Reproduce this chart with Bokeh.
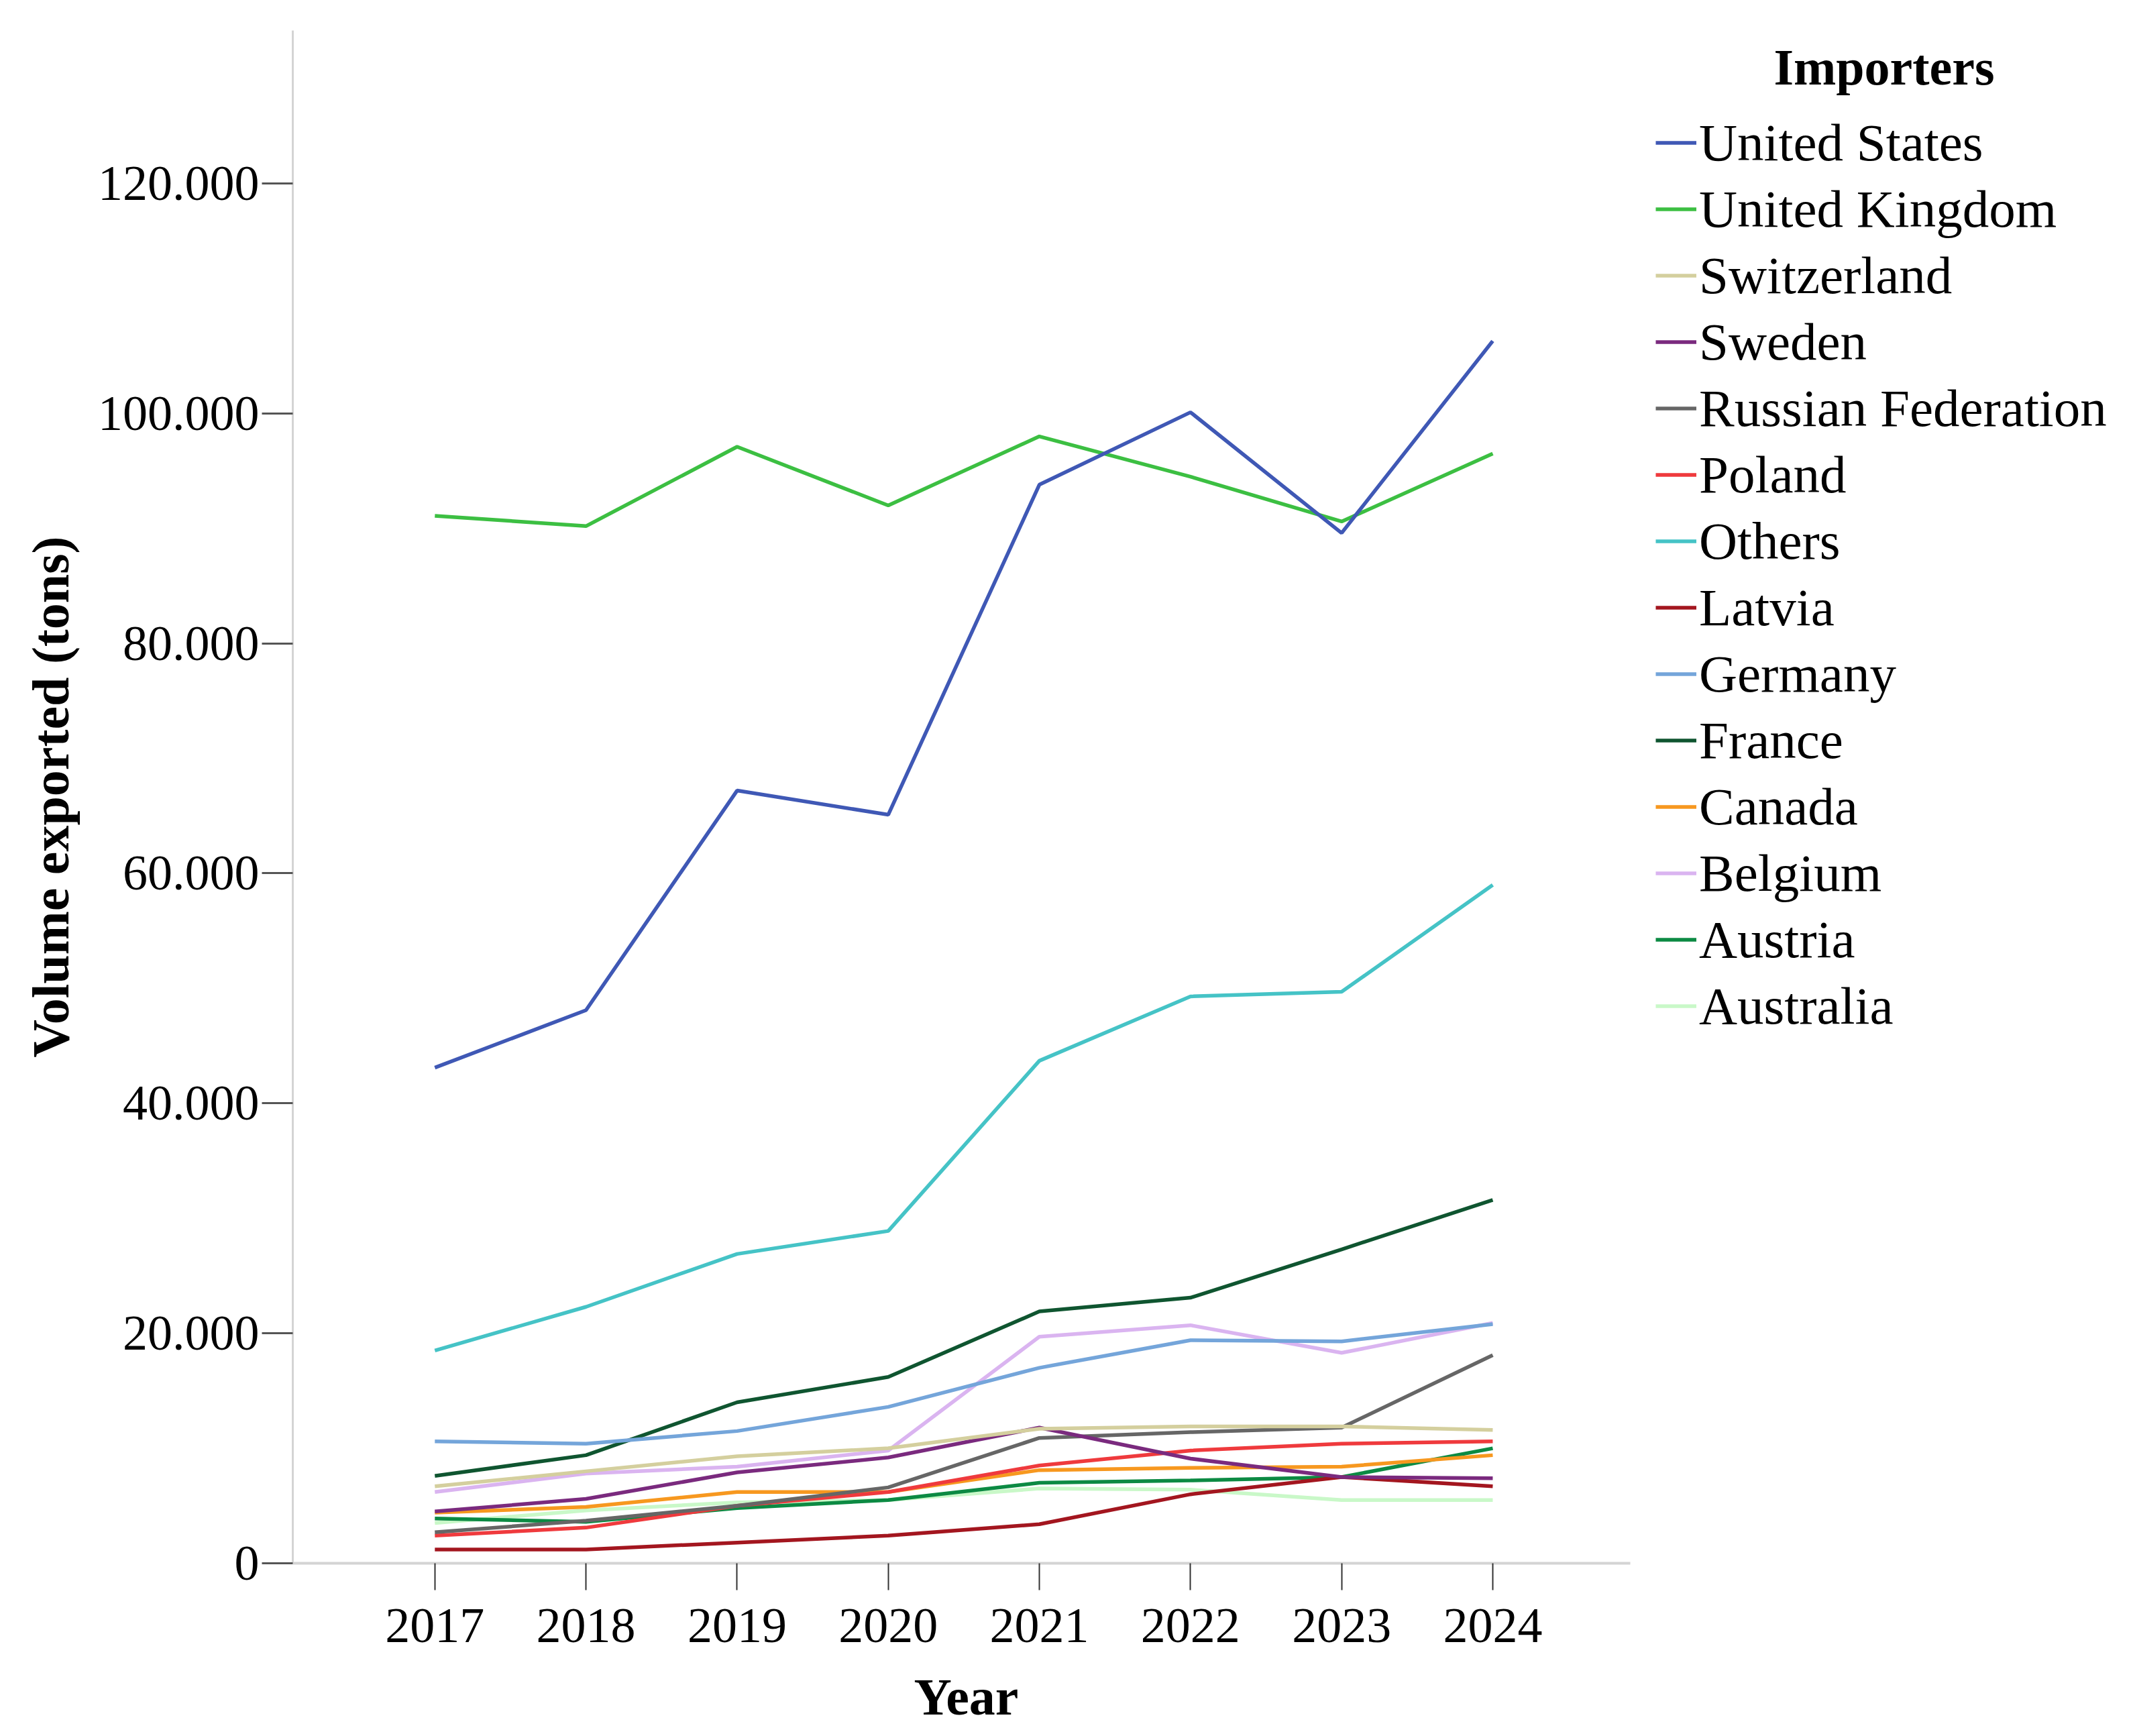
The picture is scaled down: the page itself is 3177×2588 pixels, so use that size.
from bokeh.plotting import figure
from bokeh.models import (FixedTicker, CustomJSTickFormatter, Legend, LegendItem,
                          Range1d, Label, Title)
from bokeh.embed import file_html
from bokeh.resources import INLINE

# data (tons)
years = [2017, 2018, 2019, 2020, 2021, 2022, 2023, 2024]

united_states = [43100, 48100, 67200, 65100, 93800, 100100, 89600, 106300]
united_kingdom = [91100, 90200, 97100, 92000, 98000, 94500, 90600, 96500]
switzerland = [6700, 8000, 9300, 10000, 11700, 11900, 11900, 11600]
sweden = [4500, 5600, 7900, 9200, 11800, 9100, 7500, 7400]
russian_federation = [2700, 3700, 5000, 6600, 10900, 11400, 11800, 18100]
poland = [2400, 3100, 5000, 6200, 8500, 9800, 10400, 10600]
others = [18500, 22300, 26900, 28900, 43700, 49300, 49700, 59000]
latvia = [1200, 1200, 1800, 2400, 3400, 6000, 7500, 6700]
germany = [10600, 10400, 11500, 13600, 17000, 19400, 19300, 20800]
france = [7600, 9400, 14000, 16200, 21900, 23100, 27300, 31600]
canada = [4400, 4900, 6200, 6200, 8100, 8300, 8400, 9400]
belgium = [6200, 7800, 8400, 9800, 19700, 20700, 18300, 20900]
austria = [3900, 3600, 4800, 5500, 7000, 7200, 7500, 10000]
australia = [3500, 4600, 5300, 5500, 6500, 6400, 5500, 5500]

series = [
    ("United States", united_states, "#3f58b5"),
    ("United Kingdom", united_kingdom, "#3cbf42"),
    ("Switzerland", switzerland, "#d4cf9e"),
    ("Sweden", sweden, "#7a2a7e"),
    ("Russian Federation", russian_federation, "#666666"),
    ("Poland", poland, "#ef3a3d"),
    ("Others", others, "#45c3c6"),
    ("Latvia", latvia, "#a3161f"),
    ("Germany", germany, "#74a5da"),
    ("France", france, "#0f5530"),
    ("Canada", canada, "#f7981f"),
    ("Belgium", belgium, "#dab4f0"),
    ("Austria", austria, "#0c8a43"),
    ("Australia", australia, "#c9f8c8"),
]

y_ticks = [0, 20000, 40000, 60000, 80000, 100000, 120000]

FONT = "Liberation Serif"

# the frame runs on to the right edge so the legend fits inside it;
# the x axis itself is bounded to the data span
p = figure(frame_width=2724, frame_height=2285,
           min_border_left=436, min_border_right=5,
           min_border_top=45, min_border_bottom=250,
           x_range=Range1d(2016.06, 2028.15), y_range=Range1d(0, 133300),
           output_backend="svg", toolbar_location=None)

p.outline_line_color = None
p.xgrid.grid_line_color = None
p.ygrid.grid_line_color = None
p.background_fill_color = "white"
p.border_fill_color = "white"

items = []
for name, vals, color in reversed(series):
    r = p.line(years, vals, line_color=color, line_width=5.5)
    items.append((name, r))
items.reverse()

legend = Legend(items=[LegendItem(label=n, renderers=[r]) for n, r in items],
                location=(2032, 781), orientation="vertical")
legend.padding = 0
legend.margin = 0
legend.spacing = 0
legend.border_line_color = None
legend.background_fill_alpha = 0
legend.glyph_width = 61
legend.glyph_height = 99
legend.label_height = 99
legend.label_standoff = 4
legend.label_text_font = FONT
legend.label_text_font_size = "79px"
legend.label_text_color = "black"
p.add_layout(legend, "center")

title = Label(x=2026.59, y=130100, text="Importers", text_align="center",
              text_baseline="middle", text_font=FONT, text_font_size="76px",
              text_font_style="bold", text_color="black")
p.add_layout(title)

# x axis
p.xaxis.ticker = FixedTicker(ticks=years)
p.xaxis.bounds = (2016.06, 2024.91)
p.xaxis.major_label_text_font = FONT
p.xaxis.major_label_text_font_size = "74px"
p.xaxis.major_label_text_color = "black"
p.xaxis.major_label_standoff = 28
p.xaxis.axis_line_color = "#d4d4d4"
p.xaxis.axis_line_width = 4
p.xaxis.major_tick_line_color = "#333333"
p.xaxis.major_tick_line_width = 2
p.xaxis.major_tick_out = 40
p.xaxis.major_tick_in = 0
p.xaxis.minor_tick_line_color = None

# "Year" centred under the bounded axis rather than the wide frame
xlabel = Title(text="Year", align="left", offset=926, standoff=66,
               text_font=FONT, text_font_size="78px", text_font_style="bold",
               text_color="black")
p.add_layout(xlabel, "below")

# y axis
p.yaxis.ticker = FixedTicker(ticks=y_ticks)
p.yaxis.formatter = CustomJSTickFormatter(code="""
    return Math.round(tick).toString().replace(/\\B(?=(\\d{3})+(?!\\d))/g, '.');
""")
p.yaxis.axis_label = "Volume exported (tons)"
p.yaxis.axis_label_text_font = FONT
p.yaxis.axis_label_text_font_size = "78px"
p.yaxis.axis_label_text_font_style = "bold"
p.yaxis.axis_label_text_color = "black"
p.yaxis.axis_label_standoff = 24
p.yaxis.major_label_text_font = FONT
p.yaxis.major_label_text_font_size = "74px"
p.yaxis.major_label_text_color = "black"
p.yaxis.major_label_standoff = 4
p.yaxis.axis_line_color = "#d4d4d4"
p.yaxis.axis_line_width = 3
p.yaxis.major_tick_line_color = "#555555"
p.yaxis.major_tick_line_width = 3
p.yaxis.major_tick_out = 46
p.yaxis.major_tick_in = 0
p.yaxis.minor_tick_line_color = None

open("out.html", "w").write(file_html(p, INLINE))
